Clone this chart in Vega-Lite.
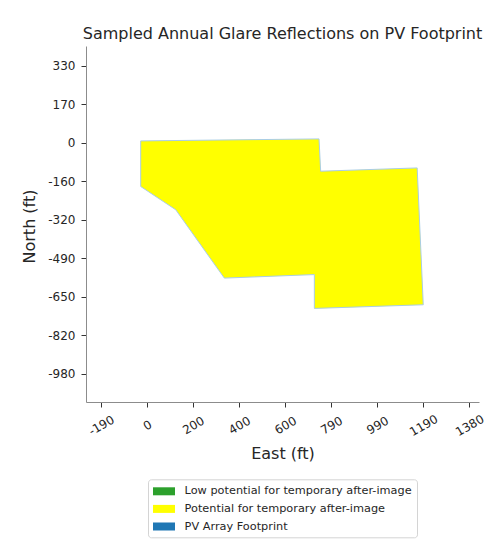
{
  "$schema": "https://vega.github.io/schema/vega-lite/v6.json",
  "width": 393,
  "height": 356,
  "autosize": {"type": "none"},
  "padding": {"left": 86, "top": 46, "right": 19, "bottom": 148},
  "background": "white",
  "config": {
    "view": {"stroke": null},
    "font": "DejaVu Sans",
    "axis": {
      "domainColor": "#8c8c8c",
      "tickColor": "#333333",
      "tickSize": 5,
      "labelColor": "#262626",
      "titleColor": "#262626",
      "labelFont": "DejaVu Sans",
      "titleFont": "DejaVu Sans",
      "labelFontSize": 12,
      "titleFontSize": 16,
      "titleFontWeight": "normal",
      "grid": false
    }
  },
  "title": {
    "text": "Sampled Annual Glare Reflections on PV Footprint",
    "font": "DejaVu Sans",
    "fontSize": 16,
    "fontWeight": "normal",
    "color": "#262626",
    "anchor": "middle",
    "offset": 4
  },
  "datasets": {
    "footprint": [
      {"order": 1, "east": -23, "north": 11},
      {"order": 2, "east": 740, "north": 19.5},
      {"order": 3, "east": 747, "north": -118},
      {"order": 4, "east": 1160, "north": -104},
      {"order": 5, "east": 1186, "north": -686.5},
      {"order": 6, "east": 720, "north": -702},
      {"order": 7, "east": 720, "north": -558},
      {"order": 8, "east": 335, "north": -573},
      {"order": 9, "east": 127, "north": -282},
      {"order": 10, "east": -23, "north": -183},
      {"order": 11, "east": -23, "north": 11}
    ],
    "legend": [
      {"category": "Low potential for temporary after-image"},
      {"category": "Potential for temporary after-image"},
      {"category": "PV Array Footprint"}
    ]
  },
  "layer": [
    {
      "data": {"name": "footprint"},
      "mark": {"type": "line", "fill": "#ffff00", "stroke": "#a9cde6", "strokeWidth": 1, "interpolate": "linear"},
      "encoding": {
        "x": {
          "field": "east", "type": "quantitative",
          "scale": {"domain": [-257, 1424.5], "nice": false, "zero": false},
          "axis": {
            "title": "East (ft)",
            "values": [-193, 4, 201, 398, 595, 792, 989, 1186, 1383],
            "labelExpr": "'' + round(datum.value/10)*10",
            "labelAngle": -30,
            "labelAlign": "center",
            "labelBaseline": "middle",
            "labelPadding": 18,
            "titleBaseline": "alphabetic",
            "titleY": 56
          }
        },
        "y": {
          "field": "north", "type": "quantitative",
          "scale": {"domain": [-1100.4, 415], "nice": false, "zero": false},
          "axis": {
            "title": "North (ft)",
            "values": [330, 166.25, 2.5, -161.25, -325, -488.75, -652.5, -816.25, -980],
            "labelExpr": "'' + round(datum.value/10)*10",
            "labelPadding": 6,
            "titleBaseline": "middle",
            "titleX": -56.5,
            "titleY": 180
          }
        },
        "order": {"field": "order", "type": "quantitative"}
      }
    },
    {
      "data": {"name": "legend"},
      "mark": {"type": "point", "filled": true, "opacity": 0},
      "encoding": {
        "fill": {
          "field": "category", "type": "nominal",
          "scale": {
            "domain": ["Low potential for temporary after-image", "Potential for temporary after-image", "PV Array Footprint"],
            "range": ["#2ca02c", "#ffff00", "#1f77b4"]
          },
          "legend": {
            "title": null,
            "orient": "none",
            "legendX": 62,
            "legendY": 433.3,
            "direction": "vertical",
            "symbolType": "M-1.045,-0.597H2.239V0.597H-1.045Z",
            "symbolSize": 180,
            "symbolOpacity": 1,
            "symbolStrokeWidth": 0,
            "labelFont": "DejaVu Sans",
            "labelFontSize": 11.3,
            "labelColor": "#262626",
            "labelLimit": 400,
            "labelOffset": 17.6,
            "rowPadding": 4.6,
            "padding": 5,
            "strokeColor": "#d4d4d4",
            "cornerRadius": 3,
            "fillColor": "white"
          }
        }
      }
    }
  ]
}
